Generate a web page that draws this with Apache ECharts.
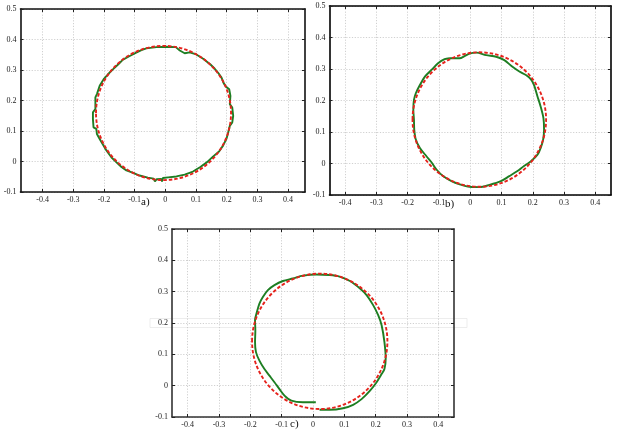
<!DOCTYPE html>
<html><head><meta charset="utf-8">
<script src="https://cdn.jsdelivr.net/npm/echarts@6/dist/echarts.min.js"></script>
<style>html,body{margin:0;padding:0;background:#fff}#c{width:622px;height:430px}</style>
</head><body><div id="c"></div>
<script>
// ---- data ----
const xTickValues = [-0.4,-0.3,-0.2,-0.1,0,0.1,0.2,0.3,0.4];
const yTickValues = [-0.1,0,0.1,0.2,0.3,0.4,0.5];
const panelLabels = ['a)','b)','c)'];
const xRangeA = [-0.472, 0.455];
const xRangeB = [-0.45, 0.45];
const xRangeC = [-0.45, 0.45];
const yRange = [-0.1, 0.5];

// measured contour (green), [x, y]
const measuredA = [[-0.062,0.371],[-0.029,0.375],[0.003,0.376],[0.034,0.375],[0.047,0.364],[0.063,0.355],[0.079,0.358],[0.101,0.351],[0.123,0.337],[0.147,0.318],[0.161,0.304],[0.172,0.291],[0.183,0.275],[0.190,0.257],[0.197,0.246],[0.208,0.237],[0.212,0.215],[0.210,0.188],[0.218,0.177],[0.221,0.150],[0.218,0.128],[0.210,0.117],[0.205,0.096],[0.199,0.074],[0.188,0.052],[0.175,0.033],[0.155,0.016],[0.136,-0.002],[0.114,-0.018],[0.090,-0.033],[0.063,-0.043],[0.036,-0.049],[0.009,-0.052],[-0.008,-0.054],[-0.011,-0.066],[-0.013,-0.057],[-0.028,-0.058],[-0.034,-0.065],[-0.040,-0.062],[-0.038,-0.056],[-0.057,-0.053],[-0.084,-0.046],[-0.105,-0.037],[-0.127,-0.029],[-0.143,-0.018],[-0.160,-0.002],[-0.176,0.014],[-0.192,0.036],[-0.205,0.058],[-0.214,0.074],[-0.223,0.090],[-0.225,0.107],[-0.234,0.112],[-0.236,0.139],[-0.236,0.161],[-0.228,0.172],[-0.228,0.210],[-0.223,0.221],[-0.214,0.248],[-0.201,0.270],[-0.187,0.286],[-0.171,0.302],[-0.154,0.318],[-0.138,0.334],[-0.116,0.346],[-0.095,0.357],[-0.078,0.365],[-0.062,0.371]];
const measuredB = [[-0.066,0.334],[-0.034,0.334],[-0.018,0.341],[-0.002,0.349],[0.019,0.352],[0.051,0.344],[0.083,0.339],[0.109,0.328],[0.135,0.307],[0.157,0.292],[0.178,0.281],[0.194,0.267],[0.204,0.249],[0.215,0.213],[0.225,0.181],[0.234,0.144],[0.236,0.107],[0.233,0.076],[0.225,0.049],[0.215,0.028],[0.194,0.007],[0.172,-0.008],[0.151,-0.024],[0.125,-0.040],[0.098,-0.056],[0.061,-0.068],[0.030,-0.075],[-0.002,-0.074],[-0.034,-0.066],[-0.060,-0.056],[-0.087,-0.040],[-0.108,-0.019],[-0.124,0.004],[-0.140,0.023],[-0.161,0.049],[-0.174,0.076],[-0.179,0.107],[-0.180,0.139],[-0.182,0.171],[-0.180,0.202],[-0.174,0.223],[-0.161,0.249],[-0.145,0.276],[-0.124,0.297],[-0.103,0.318],[-0.082,0.331],[-0.066,0.334]];
const measuredC = [[0.009,-0.053],[-0.032,-0.053],[-0.069,-0.048],[-0.091,-0.032],[-0.107,-0.011],[-0.123,0.011],[-0.139,0.032],[-0.155,0.053],[-0.171,0.080],[-0.182,0.107],[-0.185,0.139],[-0.184,0.176],[-0.185,0.209],[-0.179,0.235],[-0.171,0.262],[-0.160,0.283],[-0.144,0.305],[-0.123,0.321],[-0.096,0.334],[-0.064,0.342],[-0.032,0.351],[0.011,0.355],[0.053,0.353],[0.085,0.348],[0.118,0.334],[0.150,0.310],[0.171,0.289],[0.192,0.257],[0.208,0.225],[0.219,0.193],[0.228,0.139],[0.232,0.086],[0.228,0.053],[0.219,0.037],[0.203,0.011],[0.182,-0.016],[0.155,-0.043],[0.128,-0.061],[0.096,-0.072],[0.053,-0.077],[0.021,-0.077]];

// fitted circle (red dashed): [centerX, centerY, radius]
const fittedA = [-0.006, 0.159, 0.220];
const fittedB = [0.029, 0.1395, 0.2135];
const fittedC = [0.0215, 0.1415, 0.216];

// ---- chart ----
const panels = [
  {grid:{left:20.5, top:9, width:284.5, height:183}, xr:xRangeA, meas:measuredA, fit:fittedA, smooth:false, label:panelLabels[0], lx:146, ly:204, border:'#111'},
  {grid:{left:329.5, top:6, width:281.5, height:189}, xr:xRangeB, meas:measuredB, fit:fittedB, smooth:0.3, label:panelLabels[1], lx:450, ly:206, border:'#000'},
  {grid:{left:172, top:229, width:282, height:188}, xr:xRangeC, meas:measuredC, fit:fittedC, smooth:0.3, label:panelLabels[2], lx:295, ly:426, border:'#333'}
];
const font = 'Liberation Serif, DejaVu Serif, serif';
const fmt = v => (Math.abs(v) < 1e-9 ? '0' : String(+v.toFixed(1)));
const grids = [], xAxes = [], yAxes = [], series = [], graphics = [];
panels.forEach((p, i) => {
  grids.push(Object.assign({containLabel:false, show:false}, p.grid));
  const line = {show:true, onZero:false, lineStyle:{color:p.border, width:1.6}};
  const split = {show:true, lineStyle:{color:'#c4c4c4', width:0.8, type:[1.2,1.6]}};
  xAxes.push({type:'value', gridIndex:i, min:p.xr[0], max:p.xr[1], position:'bottom',
    axisLine:line, axisTick:{show:true, inside:true, length:3, customValues:xTickValues, lineStyle:{color:'#222', width:1}},
    axisLabel:{show:true, customValues:xTickValues, margin:4, fontFamily:font, fontSize:8, color:'#222', formatter:fmt},
    splitLine:split});
  xAxes.push({type:'value', gridIndex:i, min:p.xr[0], max:p.xr[1], position:'top',
    axisLine:line, axisTick:{show:true, inside:true, length:3, customValues:xTickValues, lineStyle:{color:'#222', width:1}},
    axisLabel:{show:false}, splitLine:{show:false}});
  yAxes.push({type:'value', gridIndex:i, min:yRange[0], max:yRange[1], position:'left',
    axisLine:line, axisTick:{show:true, inside:true, length:3, customValues:yTickValues, lineStyle:{color:'#222', width:1}},
    axisLabel:{show:true, customValues:yTickValues, margin:4, fontFamily:font, fontSize:8, color:'#222', formatter:fmt},
    splitLine:split});
  yAxes.push({type:'value', gridIndex:i, min:yRange[0], max:yRange[1], position:'right',
    axisLine:line, axisTick:{show:true, inside:true, length:3, customValues:yTickValues, lineStyle:{color:'#222', width:1}},
    axisLabel:{show:false}, splitLine:{show:false}});
  series.push({type:'line', xAxisIndex:2*i, yAxisIndex:2*i, data:p.meas, showSymbol:false, symbol:'none',
    smooth:p.smooth, lineStyle:{color:'#1d7e22', width:1.9}, z:2, silent:true});
  series.push({type:'custom', coordinateSystem:'cartesian2d', xAxisIndex:2*i, yAxisIndex:2*i,
    data:[p.fit], encode:{x:0, y:1}, z:3, silent:true,
    renderItem:(params, api) => {
      const c = api.coord([api.value(0), api.value(1)]);
      const s = api.size([api.value(2), api.value(2)]);
      return {type:'ellipse', shape:{cx:c[0], cy:c[1], rx:s[0], ry:s[1]},
        style:{fill:null, stroke:'#e5221c', lineWidth:1.9, lineDash:[3.5,2]}};
    }});
  graphics.push({type:'text', left:p.lx-5, top:p.ly-7, style:{text:p.label, font:'11px ' + font, fill:'#111'}, z:10});
});
// faint scan stripe visible across panel c
graphics.push({type:'rect', shape:{x:150, y:318.5, width:317, height:9}, style:{fill:null, stroke:'#e8e8e8', lineWidth:0.8}, z:-1});

const chart = echarts.init(document.getElementById('c'), null, {renderer:'canvas'});
chart.setOption({animation:false, backgroundColor:'#fff', grid:grids, xAxis:xAxes, yAxis:yAxes, series:series, graphic:graphics});
</script>
</body></html>
